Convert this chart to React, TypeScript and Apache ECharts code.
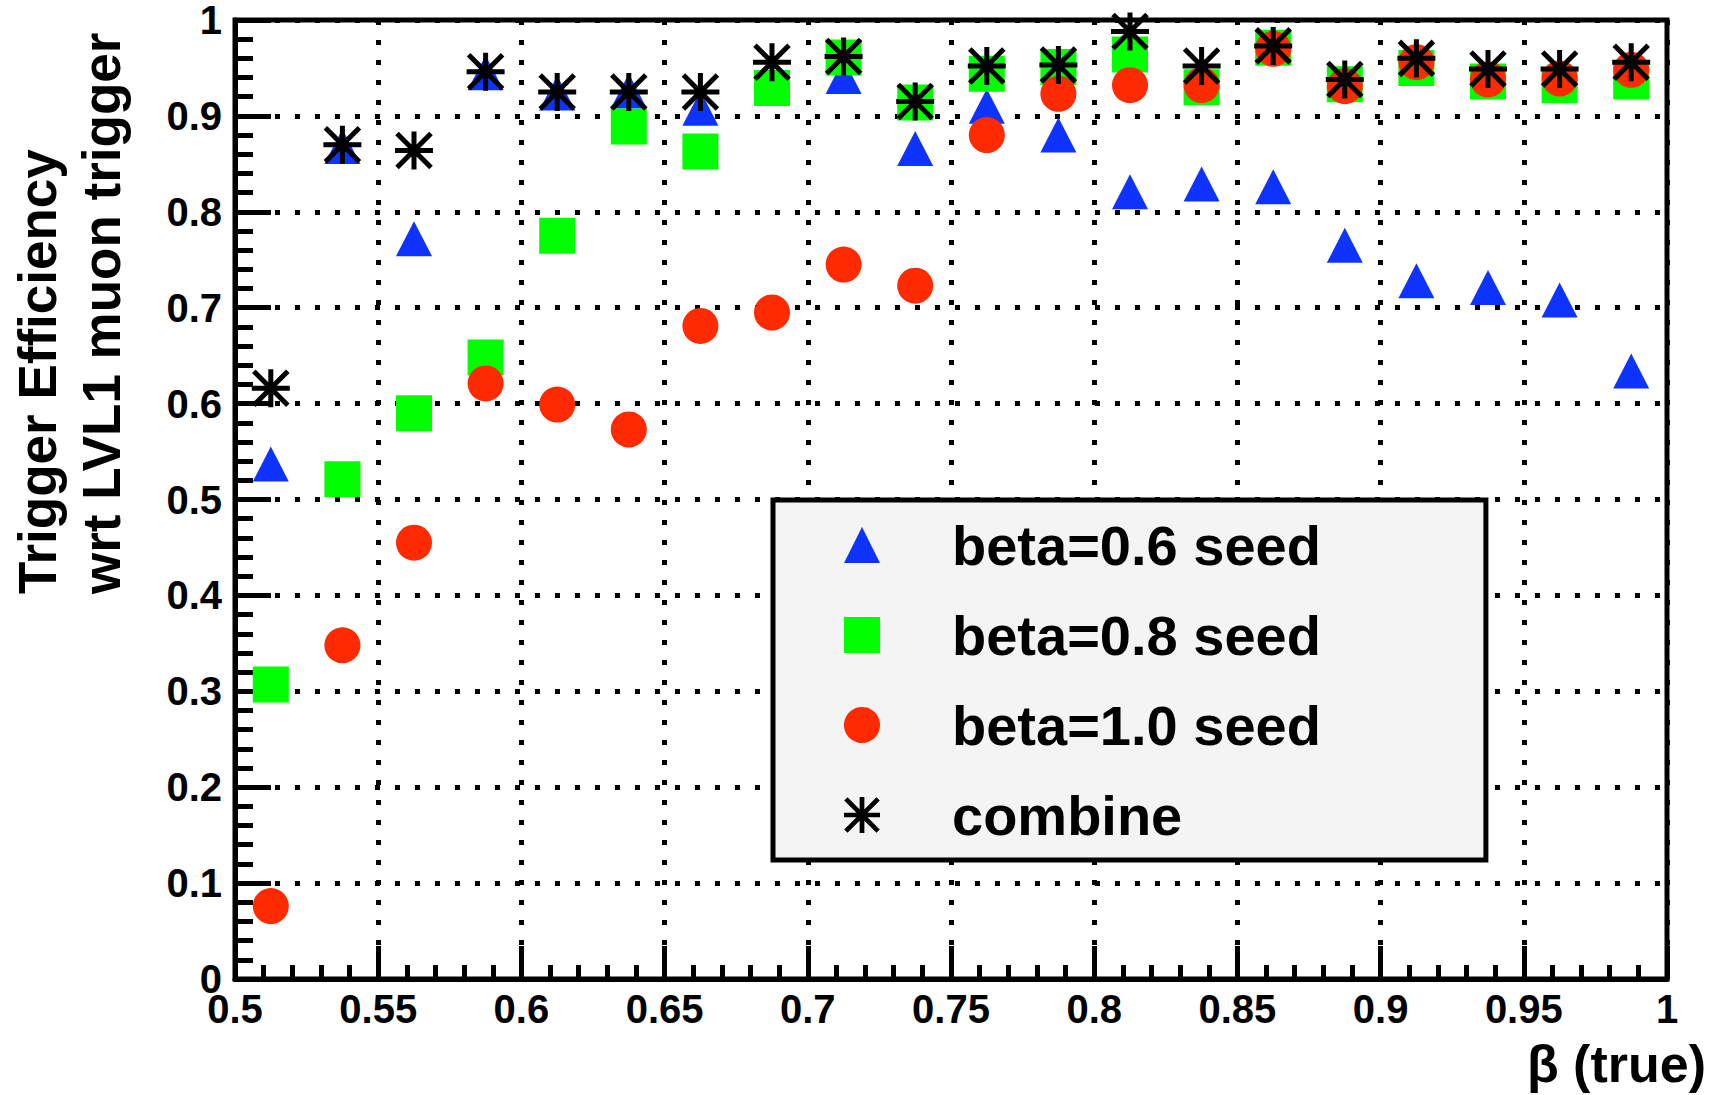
import React, { useEffect, useRef } from "react";
import * as echarts from "echarts";

// Bin centres of beta (true)
const BETA_BINS = [
  0.5125, 0.5375, 0.5625, 0.5875, 0.6125, 0.6375, 0.6625, 0.6875, 0.7125, 0.7375,
  0.7625, 0.7875, 0.8125, 0.8375, 0.8625, 0.8875, 0.9125, 0.9375, 0.9625, 0.9875,
];

const SEED_06 = [
  0.537, 0.868, 0.772, 0.945, 0.924, 0.926, 0.908, 0.929, 0.941, 0.866,
  0.910, 0.880, 0.821, 0.829, 0.826, 0.765, 0.728, 0.721, 0.708, 0.634,
];
const SEED_08 = [
  0.307, 0.521, 0.590, 0.648, 0.775, 0.889, 0.863, 0.929, 0.961, 0.914,
  0.944, 0.951, 0.964, 0.930, 0.971, 0.933, 0.950, 0.936, 0.932, 0.936,
];
const SEED_10 = [
  0.076, 0.348, 0.455, 0.621, 0.599, 0.573, 0.681, 0.695, 0.745, 0.723,
  0.880, 0.923, 0.932, 0.932, 0.970, 0.931, 0.956, 0.938, 0.939, 0.948,
];
const COMBINE = [
  0.616, 0.870, 0.864, 0.946, 0.925, 0.925, 0.925, 0.956, 0.962, 0.915,
  0.952, 0.953, 0.988, 0.952, 0.973, 0.938, 0.960, 0.949, 0.949, 0.956,
];

const SERIES_NAMES = ["beta=0.6 seed", "beta=0.8 seed", "beta=1.0 seed", "combine"];
const X_TITLE = "β (true)";
const Y_TITLE_1 = "Trigger Efficiency";
const Y_TITLE_2 = "wrt LVL1 muon trigger";

const FONT = "'Liberation Sans', Arial, Helvetica, sans-serif";

const STAR_PATH =
  "path://M-2.5,-19 L2.5,-19 L2.5,19 L-2.5,19 Z " +
  "M-19,-2.5 L19,-2.5 L19,2.5 L-19,2.5 Z " +
  "M-15.23,-18.77 L18.77,15.23 L15.23,18.77 L-18.77,-15.23 Z " +
  "M-18.77,15.23 L15.23,-18.77 L18.77,-15.23 L-15.23,18.77 Z";

const toPoints = (ys: number[]) => BETA_BINS.map((x, i) => [x, ys[i]]);

export default function App() {
  const ref = useRef<HTMLDivElement>(null);

  useEffect(() => {
    if (!ref.current) return;
    const chart = echarts.init(ref.current, undefined, { renderer: "svg" });
    const grid = { left: 235, top: 20, width: 1432, height: 959 };
    const axisLabelStyle = {
      color: "#000",
      fontFamily: FONT,
      fontWeight: "bold" as const,
      fontSize: 40,
    };
    chart.setOption({
      animation: false,
      backgroundColor: "#fff",
      grid: { ...grid, show: true, borderColor: "#000", borderWidth: 5, backgroundColor: "transparent" },
      xAxis: {
        type: "value",
        min: 0.5,
        max: 1,
        interval: 0.05,
        axisLine: { show: true, onZero: false, lineStyle: { color: "#000", width: 5 } },
        axisTick: { show: true, inside: true, length: 33, lineStyle: { color: "#000", width: 5 } },
        minorTick: { show: true, splitNumber: 5, length: 14, lineStyle: { color: "#000", width: 5 } },
        splitLine: { show: true, lineStyle: { color: "#000", width: 5, type: [5, 15] } },
        axisLabel: { ...axisLabelStyle, margin: 10, showMinLabel: true, showMaxLabel: true },
      },
      yAxis: {
        type: "value",
        min: 0,
        max: 1,
        interval: 0.1,
        axisLine: { show: true, onZero: false, lineStyle: { color: "#000", width: 5 } },
        axisTick: { show: true, inside: true, length: 36, lineStyle: { color: "#000", width: 5 } },
        minorTick: { show: true, splitNumber: 5, length: 18, lineStyle: { color: "#000", width: 5 } },
        splitLine: { show: true, lineStyle: { color: "#000", width: 5, type: [5, 15] } },
        axisLabel: { ...axisLabelStyle, margin: 13 },
      },
      legend: {
        show: true,
        orient: "vertical",
        left: 773,
        top: 500,
        selectedMode: false,
        backgroundColor: "#f4f4f4",
        borderColor: "#000",
        borderWidth: 5,
        borderRadius: 0,
        padding: [17, 165, 17, 71],
        itemGap: 34,
        itemWidth: 36,
        itemHeight: 36,
        data: SERIES_NAMES,
        textStyle: {
          color: "#000",
          fontFamily: FONT,
          fontWeight: "bold",
          fontSize: 56,
          lineHeight: 50,
          padding: [6, 0, 0, 67],
        },
      },
      series: [
        {
          name: SERIES_NAMES[0],
          type: "scatter",
          symbol: "triangle",
          symbolSize: [36, 35],
          itemStyle: { color: "#0f33ff", opacity: 1 },
          data: toPoints(SEED_06),
          z: 2,
        },
        {
          name: SERIES_NAMES[1],
          type: "scatter",
          symbol: "rect",
          symbolSize: 36,
          itemStyle: { color: "#00ff00", opacity: 1 },
          data: toPoints(SEED_08),
          z: 3,
        },
        {
          name: SERIES_NAMES[2],
          type: "scatter",
          symbol: "circle",
          symbolSize: 36,
          itemStyle: { color: "#ff2a00", opacity: 1 },
          data: toPoints(SEED_10),
          z: 4,
        },
        {
          name: SERIES_NAMES[3],
          type: "scatter",
          symbol: STAR_PATH,
          symbolSize: 38,
          itemStyle: { color: "#000", opacity: 1 },
          data: toPoints(COMBINE),
          clip: false,
          z: 5,
        },
      ],
      graphic: [
        {
          type: "text",
          x: 37,
          y: 594,
          rotation: Math.PI / 2,
          style: {
            text: Y_TITLE_1,
            fill: "#000",
            font: `bold 53px ${FONT}`,
            align: "left",
            verticalAlign: "middle",
          },
        },
        {
          type: "text",
          x: 101,
          y: 594,
          rotation: Math.PI / 2,
          style: {
            text: Y_TITLE_2,
            fill: "#000",
            font: `bold 53px ${FONT}`,
            align: "left",
            verticalAlign: "middle",
          },
        },
        {
          type: "text",
          x: 1706,
          y: 1064,
          style: {
            text: X_TITLE,
            fill: "#000",
            font: `bold 52px ${FONT}`,
            align: "right",
            verticalAlign: "middle",
          },
        },
      ],
    });
    return () => chart.dispose();
  }, []);

  return (
    <div
      ref={ref}
      style={{ position: "absolute", left: 0, top: 0, width: 1712, height: 1095 }}
    />
  );
}
